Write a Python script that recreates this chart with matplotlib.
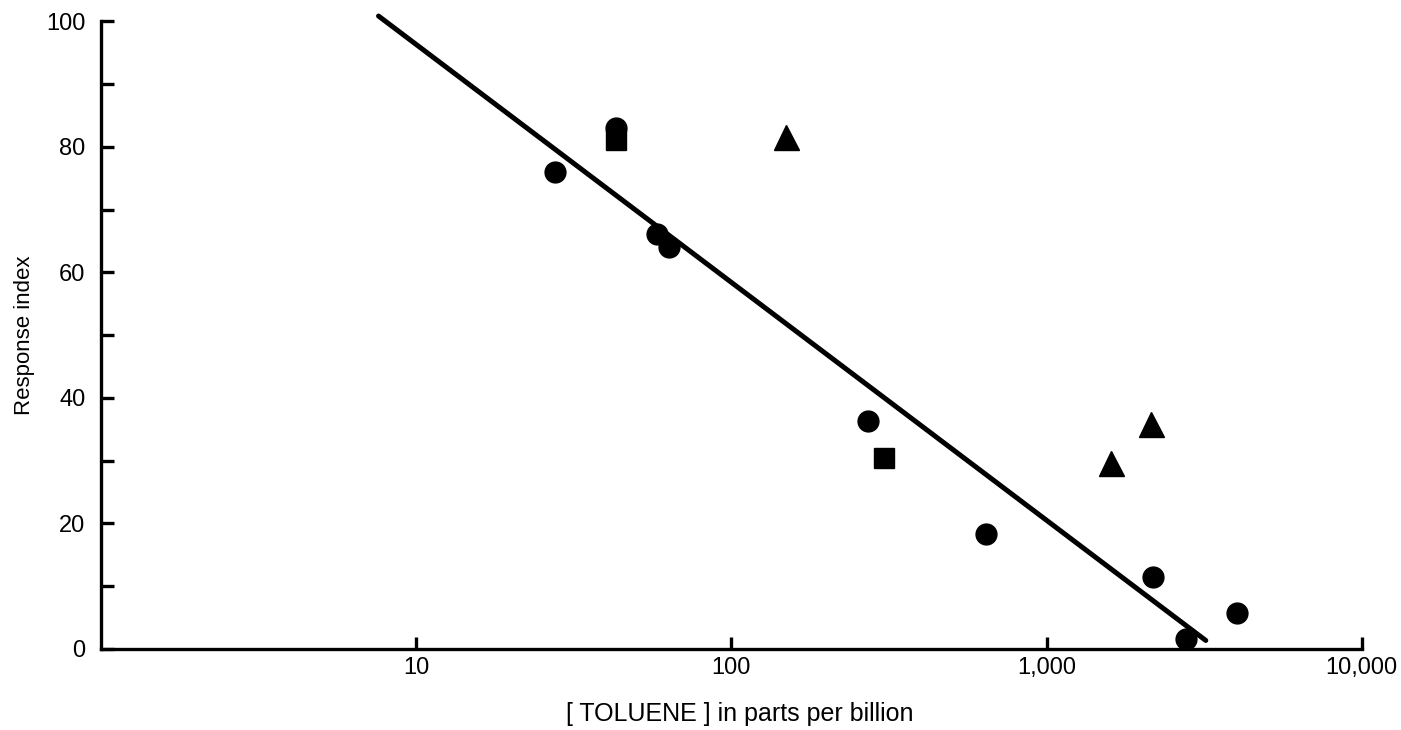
import numpy as np
import matplotlib
matplotlib.use('Agg')
import matplotlib.pyplot as plt

plt.rcParams['font.family'] = ['Liberation Sans', 'DejaVu Sans']

# circles
circle_ppb = [27.5, 43, 58, 63.4, 272, 641, 2183, 2774, 4010]
circle_resp = [76.0, 83.0, 66.1, 64.0, 36.3, 18.3, 11.5, 1.6, 5.7]

# squares
square_ppb = [43, 304]
square_resp = [81.0, 30.4]

# triangles
tri_ppb = [149, 1603, 2148]
tri_resp = [81.5, 29.6, 35.8]

# fitted line: response = a + b*log10(ppb)
fit_a = 134.2
fit_b = -37.9
fit_range = [7.6, 3200]

fig = plt.figure(figsize=(14.01, 7.30), dpi=100)
ax = fig.add_axes([0.072, 0.111, 0.900, 0.860])

lx = np.array(fit_range)
ax.plot(lx, fit_a + fit_b * np.log10(lx), color='black', lw=3.6,
        solid_capstyle='round', clip_on=False, zorder=2)

ax.plot(circle_ppb, circle_resp, 'o', color='black', ms=15, zorder=3, clip_on=False)
ax.plot(square_ppb, square_resp, 's', color='black', ms=14, zorder=3)
ax.plot(tri_ppb, tri_resp, '^', color='black', ms=18, zorder=3)

ax.set_xscale('log')
ax.set_xlim(1, 10000)
ax.set_ylim(0, 100)

ax.set_xticks([10, 100, 1000, 10000])
ax.set_xticklabels(['10', '100', '1,000', '10,000'])
ax.xaxis.set_minor_locator(matplotlib.ticker.NullLocator())
ax.set_yticks([0, 20, 40, 60, 80, 100])
ax.set_yticks([10, 30, 50, 70, 90], minor=True)

for s in ['top', 'right']:
    ax.spines[s].set_visible(False)
for s in ['left', 'bottom']:
    ax.spines[s].set_linewidth(2.4)

ax.tick_params(axis='both', which='both', direction='in', width=2.4,
               length=9, labelsize=17, color='black')
ax.tick_params(axis='y', pad=11)
ax.tick_params(axis='x', pad=6)

ax.set_ylabel('Response index', fontsize=16)
ax.yaxis.set_label_coords(-0.052, 0.5)
ax.set_xlabel('[ TOLUENE ] in parts per billion', fontsize=18)
ax.xaxis.set_label_coords(0.507, -0.085)

fig.savefig('out.png', dpi=100)
